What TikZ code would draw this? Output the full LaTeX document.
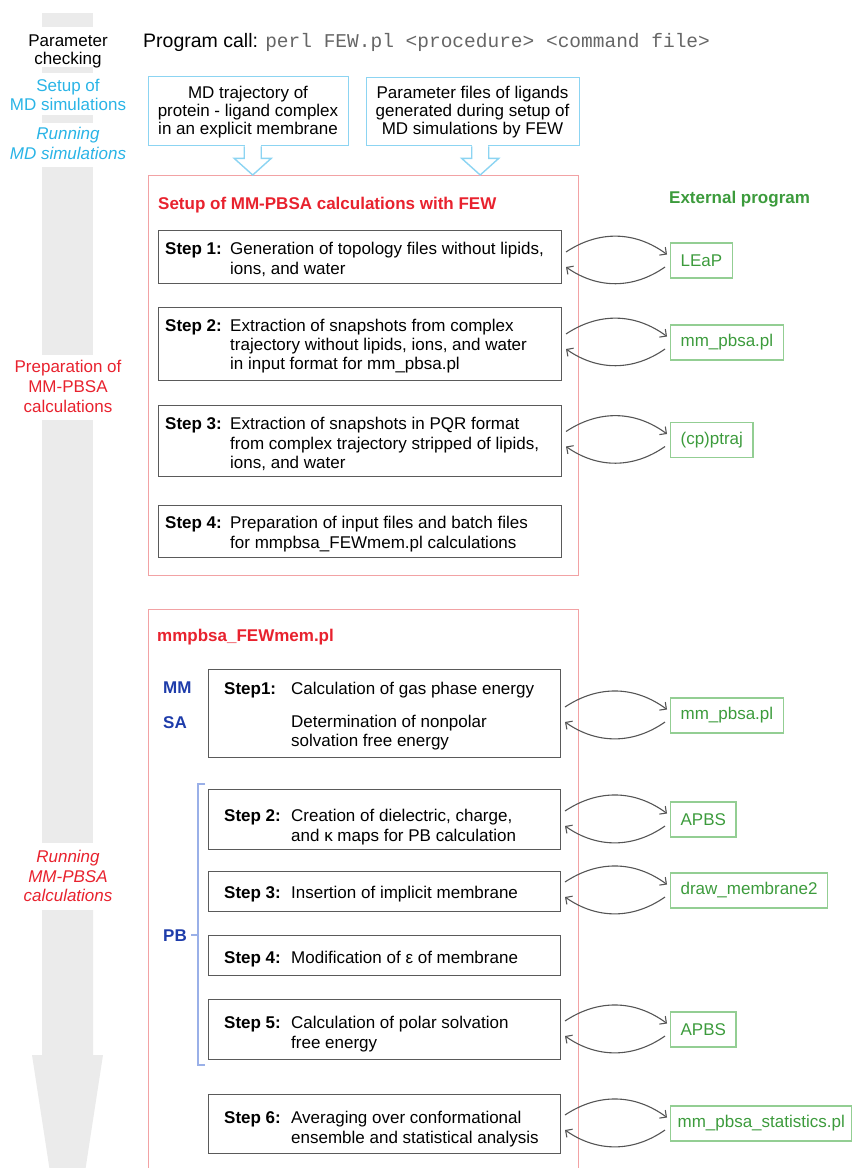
\documentclass[tikz,border=0pt]{standalone}
\usepackage{fontspec}
\setmainfont{Liberation Sans}
\setmonofont{Liberation Mono}
\usetikzlibrary{arrows.meta,calc}
\definecolor{cyanT}{HTML}{2AB4E6}
\definecolor{cyanB}{HTML}{8CD4F2}
\definecolor{redT}{HTML}{E8222E}
\definecolor{redB}{HTML}{F2A2A4}
\definecolor{greenT}{HTML}{3C9B3C}
\definecolor{greenB}{HTML}{93CE93}
\definecolor{blueT}{HTML}{1E3CAA}
\definecolor{blueB}{HTML}{9AB0E8}
\definecolor{grayA}{HTML}{EBEBEB}
\definecolor{boxB}{HTML}{5A5A5A}
\definecolor{curveC}{HTML}{555555}
\definecolor{monoC}{HTML}{666666}
\tikzset{
  txt/.style={font=\fontsize{17}{19.5}\selectfont, inner sep=0pt, anchor=base west},
  bld/.style={txt, font=\fontsize{17}{19.5}\selectfont\bfseries},
  lab/.style={font=\fontsize{17}{19.5}\selectfont, inner sep=0pt, anchor=base},
  stepbox/.style={draw=boxB, line width=1pt, inner sep=0pt, anchor=north west},
  redbox/.style={draw=redB, line width=1.3pt, inner sep=0pt, anchor=north west},
  cyanbox/.style={draw=cyanB, line width=1.4pt, inner sep=0pt, anchor=north west},
  gbox/.style={draw=greenB, line width=1.2pt, text=greenT, font=\fontsize{17}{19.5}\selectfont,
     inner xsep=10pt, inner ysep=0pt, minimum height=35pt, anchor=west},
  curv/.style={draw=curveC, line width=1.1pt, -{Straight Barb[length=5pt,width=10pt]}},
  cyarrow/.style={draw=cyanB, line width=1.4pt, fill=white, line join=miter}
}
\begin{document}
\begin{tikzpicture}[x=1pt,y=-1pt]
\useasboundingbox (0,0) rectangle (855,1168);
\clip (0,0) rectangle (855,1168);

% big gray process arrow (left)
\fill[grayA] (42,13) rectangle (93,27);
\fill[grayA] (42,67) rectangle (93,73);
\fill[grayA] (42,115) rectangle (93,123);
\fill[grayA] (42,167) rectangle (93,355);
\fill[grayA] (42,420) rectangle (93,843);
\fill[grayA] (42,910) -- (42,1055) -- (32,1055) -- (67.5,1286) -- (103,1055) -- (93,1055) -- (93,910) -- cycle;

% left labels
\node[lab] (lpa) at (68,46) {Parameter};
\node[lab] (lpb) at (68,64) {checking};
\node[lab, text=cyanT] (lsa) at (68,91) {Setup of};
\node[lab, text=cyanT] (lsb) at (68,110) {MD simulations};
\node[lab, text=cyanT, font=\fontsize{17}{19.5}\selectfont\itshape] (lra) at (68,139) {Running};
\node[lab, text=cyanT, font=\fontsize{17}{19.5}\selectfont\itshape] (lrb) at (68,159) {MD simulations};
\node[lab, text=redT] (lpra) at (68,372) {Preparation of};
\node[lab, text=redT] (lprb) at (68,392) {MM-PBSA};
\node[lab, text=redT] (lprc) at (68,412) {calculations};
\node[lab, text=redT, font=\fontsize{17}{19.5}\selectfont\itshape] (lrma) at (68,862) {Running};
\node[lab, text=redT, font=\fontsize{17}{19.5}\selectfont\itshape] (lrmb) at (68,882) {MM-PBSA};
\node[lab, text=redT, font=\fontsize{17}{19.5}\selectfont\itshape] (lrmc) at (68,901) {calculations};

% program call
\node[txt, font=\fontsize{19.5}{22}\selectfont] (pc) at (143,47)
  {Program call: \textcolor{monoC}{\texttt{perl FEW.pl <procedure> <command file>}}};

% input boxes
\node[cyanbox, minimum width=200pt, minimum height=69pt] (c1) at (148,76) {};
\node[cyanbox, minimum width=213pt, minimum height=68pt] (c2) at (366,77) {};
\node[lab] (c1a) at (248,98) {MD trajectory of};
\node[lab] (c1b) at (248,116) {protein - ligand complex};
\node[lab] (c1c) at (248,134) {in an explicit membrane};
\node[lab] (c2a) at (472.5,98) {Parameter files of ligands};
\node[lab] (c2b) at (472.5,116) {generated during setup of};
\node[lab] (c2c) at (472.5,134) {MD simulations by FEW};

% red boxes
\node[redbox, minimum width=430pt, minimum height=400pt] (r1) at (148,175) {};
\node[redbox, minimum width=430pt, minimum height=620pt] (r2) at (148,609) {};

% hollow arrows from input boxes into the setup box
\foreach \src/\dx in {c1/4, c2/7}{
  \path ([xshift=\dx pt]\src.south) coordinate (as);
  \fill[white] ($(as)+(-7.8,-1)$) rectangle ($(as)+(7.8,1)$);
  \draw[cyarrow] ($(as)+(-8.5,0)$) -- ++(0,12) -- ++(-10,0) -- ($(as |- r1.north)$) -- ($(as)+(18.5,12)$) -- ++(-10,0) -- ++(0,-12);
}

% section titles
\node[bld, text=redT] (t1) at (158,209) {Setup of MM-PBSA calculations with FEW};
\node[bld, text=greenT] (ext) at (669,203) {External program};
\node[bld, text=redT] (t2) at (157,641) {mmpbsa\_FEWmem.pl};

% ---- section 1 step boxes
\node[stepbox, minimum width=403pt, minimum height=53pt] (a1) at (158,230) {};
\node[stepbox, minimum width=403pt, minimum height=73pt] (a2) at (158,307) {};
\node[stepbox, minimum width=403pt, minimum height=71pt] (a3) at (158,405) {};
\node[stepbox, minimum width=403pt, minimum height=52pt] (a4) at (158,505) {};

\node[bld] (a1l) at (165,254) {Step 1:};
\node[txt] (a1x) at (230,254) {Generation of topology files without lipids,};
\node[txt] (a1y) at (230,274) {ions, and water};
\node[bld] (a2l) at (165,331) {Step 2:};
\node[txt] (a2x) at (230,331) {Extraction of snapshots from complex};
\node[txt] (a2y) at (230,350) {trajectory without lipids, ions, and water};
\node[txt] (a2z) at (230,369) {in input format for mm\_pbsa.pl};
\node[bld] (a3l) at (165,429) {Step 3:};
\node[txt] (a3x) at (230,429) {Extraction of snapshots in PQR format};
\node[txt] (a3y) at (230,449) {from complex trajectory stripped of lipids,};
\node[txt] (a3z) at (230,468) {ions, and water};
\node[bld] (a4l) at (165,528) {Step 4:};
\node[txt] (a4x) at (230,528) {Preparation of input files and batch files};
\node[txt] (a4y) at (230,548) {for mmpbsa\_FEWmem.pl calculations};

% external programs, section 1
\node[gbox] (g1) at (670,260.5) {LEaP};
\node[gbox] (g2) at (670,342.5) {mm\_pbsa.pl};
\node[gbox] (g3) at (670,440) {(cp)ptraj};

% ---- section 2
\node[bld, text=blueT] (mm) at (163,693) {MM};
\node[bld, text=blueT] (sa) at (163,728) {SA};
\node[bld, text=blueT] (pb) at (163,941) {PB};
\draw[blueB, line width=1.1pt] (205,784) -- (198,784) -- (198,1065) -- (205,1065);
\draw[blueB, line width=1.1pt] (198,935) -- (191,935);

\node[stepbox, minimum width=352pt, minimum height=88pt] (b1) at (208,669) {};
\node[stepbox, minimum width=352pt, minimum height=60pt] (b2) at (208,789) {};
\node[stepbox, minimum width=352pt, minimum height=40pt] (b3) at (208,871) {};
\node[stepbox, minimum width=352pt, minimum height=40pt] (b4) at (208,935) {};
\node[stepbox, minimum width=352pt, minimum height=60pt] (b5) at (208,999) {};
\node[stepbox, minimum width=352pt, minimum height=59pt] (b6) at (208,1094) {};

\node[bld] (b1l) at (224,694) {Step1:};
\node[txt] (b1x) at (291,694) {Calculation of gas phase energy};
\node[txt] (b1y) at (291,727) {Determination of nonpolar};
\node[txt] (b1z) at (291,746) {solvation free energy};
\node[bld] (b2l) at (224,821) {Step 2:};
\node[txt] (b2x) at (291,821) {Creation of dielectric, charge,};
\node[txt] (b2y) at (291,841) {and κ maps for PB calculation};
\node[bld] (b3l) at (224,898) {Step 3:};
\node[txt] (b3x) at (291,898) {Insertion of implicit membrane};
\node[bld] (b4l) at (224,963) {Step 4:};
\node[txt] (b4x) at (291,963) {Modification of ε of membrane};
\node[bld] (b5l) at (224,1028) {Step 5:};
\node[txt] (b5x) at (291,1028) {Calculation of polar solvation};
\node[txt] (b5y) at (291,1048) {free energy};
\node[bld] (b6l) at (224,1123) {Step 6:};
\node[txt] (b6x) at (291,1123) {Averaging over conformational};
\node[txt] (b6y) at (291,1143) {ensemble and statistical analysis};

\node[gbox] (h1) at (670,715.5) {mm\_pbsa.pl};
\node[gbox] (h2) at (670,819.5) {APBS};
\node[gbox] (h3) at (670,890.5) {draw\_membrane2};
\node[gbox] (h5) at (670,1029.5) {APBS};
\node[gbox, inner xsep=7pt] (h6) at (670,1123.5) {mm\_pbsa\_statistics.pl};

% two-way curved connectors
\foreach \s/\g in {a1/g1, a2/g2, a3/g3, b1/h1, b2/h2, b3/h3, b5/h5, b6/h6}{
  \draw[curv] ($(\s.east |- \g.west)+(4,-8.5)$) to[bend left=35] ($(\g.west)+(-3,-6)$);
  \draw[curv] ($(\g.west)+(-5,6.5)$) to[bend left=35] ($(\s.east |- \g.west)+(4,6.5)$);
}
\end{tikzpicture}
\end{document}
